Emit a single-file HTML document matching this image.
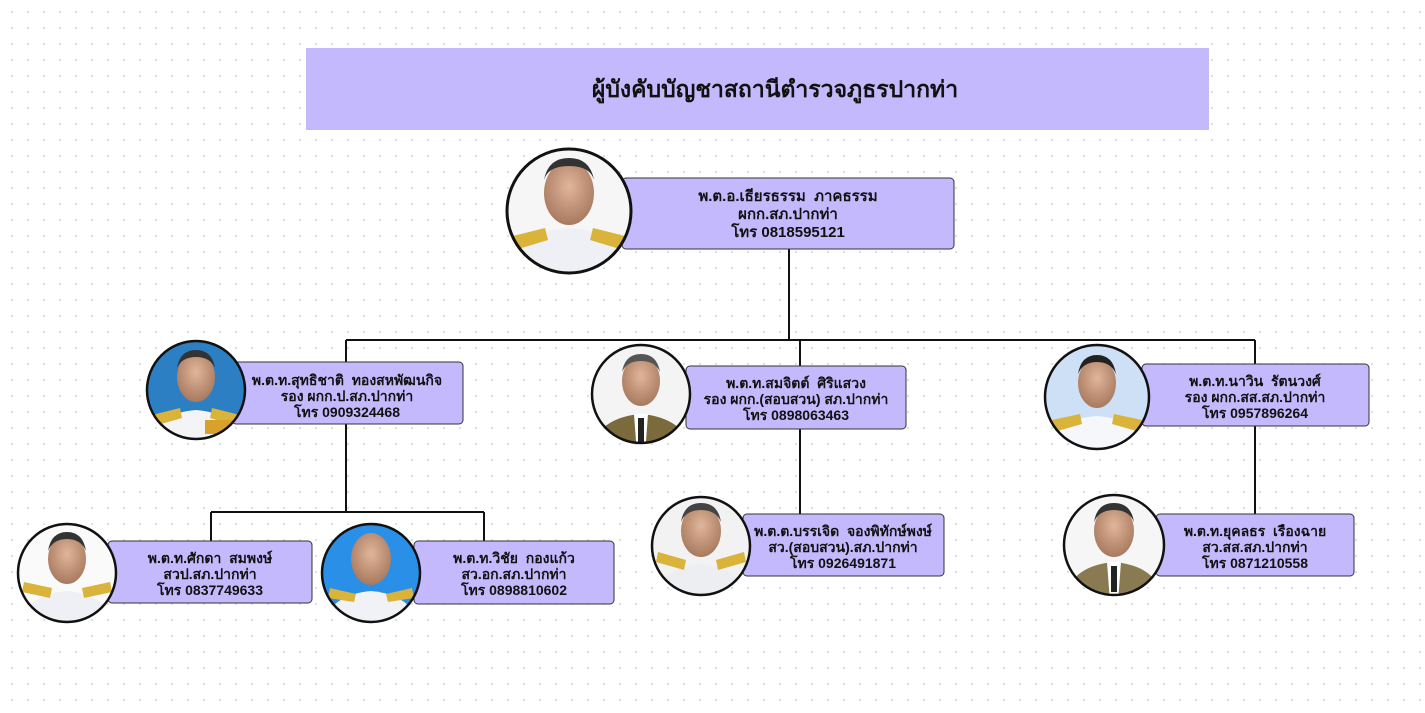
<!DOCTYPE html>
<html><head><meta charset="utf-8"><style>
html,body{margin:0;padding:0;}
body{width:1425px;height:708px;overflow:hidden;background-color:#fff;background-image:radial-gradient(circle,#dcdcdc 1px,transparent 1.3px);background-size:16px 16px;background-position:4px 4px;font-family:"Liberation Sans","DejaVu Sans",sans-serif;}
svg text{font-family:"Liberation Sans","DejaVu Sans",sans-serif;font-weight:bold;fill:#111;text-anchor:middle;}
</style></head><body>
<svg width="1425" height="708" xmlns="http://www.w3.org/2000/svg">
<defs>
<radialGradient id="skin" cx="50%" cy="40%" r="60%"><stop offset="0" stop-color="#e0b69a"/><stop offset="1" stop-color="#a8795e"/></radialGradient>
</defs>
<rect x="306" y="48" width="903" height="82" fill="#c5b9fd"/>
<text x="775" y="97" font-size="23">ผู้บังคับบัญชาสถานีตำรวจภูธรปากท่า</text>

<g stroke="#111" stroke-width="2" fill="none">
<path d="M789 249 V340 M346 340 H1255 M346 340 V363 M800 340 V366 M1255 340 V364"/>
<path d="M346 424 V512 M211 512 H484 M211 512 V541 M484 512 V541"/>
<path d="M800 429 V514 M1255 426 V514"/>
</g>

<g stroke="#333" stroke-width="1" fill="#c5b9fd">
<rect x="622" y="178" width="332" height="71" rx="4"/>
<rect x="232" y="362" width="231" height="62" rx="4"/>
<rect x="686" y="366" width="220" height="63" rx="4"/>
<rect x="1142" y="364" width="227" height="62" rx="4"/>
<rect x="108" y="541" width="204" height="62" rx="4"/>
<rect x="414" y="541" width="200" height="63" rx="4"/>
<rect x="743" y="514" width="201" height="62" rx="4"/>
<rect x="1156" y="514" width="198" height="62" rx="4"/>
</g>

<g id="photos">
<g><clipPath id="c1"><circle cx="569" cy="211" r="62"/></clipPath><g clip-path="url(#c1)"><rect x="500" y="140" width="140" height="140" fill="#f6f6f6"/><path d="M505 280 Q510 232 569 228 Q628 232 633 280Z" fill="#eef0f5"/><path d="M513 236 L545 228 L548 240 L515 250Z M625 236 L593 228 L590 240 L623 250Z" fill="#d9b33a"/><ellipse cx="569" cy="193" rx="25" ry="32" fill="url(#skin)"/><path d="M544 180 Q548 158 569 158 Q590 158 594 180 Q590 166 569 166 Q548 166 544 180Z" fill="#333"/></g><circle cx="569" cy="211" r="62" fill="none" stroke="#111" stroke-width="3"/></g>

<g><clipPath id="c2"><circle cx="196" cy="390" r="49"/></clipPath><g clip-path="url(#c2)"><rect x="140" y="335" width="115" height="115" fill="#2d7fc4"/><path d="M145 450 Q150 414 196 410 Q242 414 247 450Z" fill="#f4f4f6"/><path d="M152 415 L180 408 L182 418 L154 426Z M240 415 L212 408 L210 418 L238 426Z" fill="#d9b33a"/><rect x="205" y="420" width="28" height="14" fill="#d7a12b"/><ellipse cx="196" cy="377" rx="19" ry="25" fill="url(#skin)"/><path d="M177 368 Q180 350 196 350 Q212 350 215 368 Q210 357 196 357 Q182 357 177 368Z" fill="#333"/></g><circle cx="196" cy="390" r="49" fill="none" stroke="#111" stroke-width="2.5"/></g>

<g><clipPath id="c3"><circle cx="641" cy="394" r="49"/></clipPath><g clip-path="url(#c3)"><rect x="585" y="340" width="115" height="115" fill="#f4f4f4"/><path d="M590 455 Q595 418 641 414 Q687 418 692 455Z" fill="#7a6a3c"/><path d="M634 414 L648 414 L645 455 L637 455Z" fill="#fff"/><rect x="638" y="418" width="6" height="30" fill="#222"/><ellipse cx="641" cy="381" rx="19" ry="25" fill="url(#skin)"/><path d="M622 372 Q625 354 641 354 Q657 354 660 372 Q655 361 641 361 Q627 361 622 372Z" fill="#555"/></g><circle cx="641" cy="394" r="49" fill="none" stroke="#111" stroke-width="2.5"/></g>

<g><clipPath id="c4"><circle cx="1097" cy="397" r="52"/></clipPath><g clip-path="url(#c4)"><rect x="1040" y="340" width="115" height="115" fill="#cde0f5"/><path d="M1043 455 Q1048 420 1097 416 Q1146 420 1151 455Z" fill="#f5f7fb"/><path d="M1052 420 L1080 414 L1082 424 L1054 432Z M1142 420 L1114 414 L1112 424 L1140 432Z" fill="#d9b33a"/><ellipse cx="1097" cy="383" rx="19" ry="25" fill="url(#skin)"/><path d="M1078 374 Q1081 355 1097 355 Q1113 355 1116 374 Q1111 362 1097 362 Q1083 362 1078 374Z" fill="#222"/></g><circle cx="1097" cy="397" r="52" fill="none" stroke="#111" stroke-width="2.5"/></g>

<g><clipPath id="c5"><circle cx="67" cy="573" r="49"/></clipPath><g clip-path="url(#c5)"><rect x="15" y="520" width="110" height="110" fill="#fafafa"/><path d="M18 630 Q23 595 67 591 Q111 595 116 630Z" fill="#eef0f5"/><path d="M24 582 L52 588 L50 598 L22 592Z M110 582 L82 588 L84 598 L112 592Z" fill="#d9b33a"/><ellipse cx="67" cy="559" rx="19" ry="25" fill="url(#skin)"/><path d="M48 551 Q51 532 67 532 Q83 532 86 551 Q81 539 67 539 Q53 539 48 551Z" fill="#333"/></g><circle cx="67" cy="573" r="49" fill="none" stroke="#111" stroke-width="2.5"/></g>

<g><clipPath id="c6"><circle cx="371" cy="573" r="49"/></clipPath><g clip-path="url(#c6)"><rect x="318" y="520" width="110" height="110" fill="#2a8fe6"/><path d="M322 630 Q327 595 371 591 Q415 595 420 630Z" fill="#f0f2f6"/><path d="M330 588 L356 594 L354 602 L328 598Z M412 588 L386 594 L388 602 L414 598Z" fill="#d9b33a"/><ellipse cx="371" cy="559" rx="20" ry="26" fill="url(#skin)"/></g><circle cx="371" cy="573" r="49" fill="none" stroke="#111" stroke-width="2.5"/></g>

<g><clipPath id="c7"><circle cx="701" cy="546" r="49"/></clipPath><g clip-path="url(#c7)"><rect x="648" y="494" width="110" height="110" fill="#f2f2f2"/><path d="M652 604 Q657 568 701 564 Q745 568 750 604Z" fill="#eceef2"/><path d="M658 552 L686 560 L684 570 L656 562Z M744 552 L716 560 L718 570 L746 562Z" fill="#d9b33a"/><ellipse cx="701" cy="531" rx="20" ry="26" fill="url(#skin)"/><path d="M681 522 Q684 503 701 503 Q718 503 721 522 Q716 510 701 510 Q686 510 681 522Z" fill="#444"/></g><circle cx="701" cy="546" r="49" fill="none" stroke="#111" stroke-width="2.5"/></g>

<g><clipPath id="c8"><circle cx="1114" cy="545" r="50"/></clipPath><g clip-path="url(#c8)"><rect x="1060" y="492" width="110" height="110" fill="#f6f6f6"/><path d="M1064 602 Q1069 566 1114 562 Q1159 566 1164 602Z" fill="#8a7a52"/><path d="M1107 562 L1121 562 L1118 602 L1110 602Z" fill="#fff"/><rect x="1111" y="566" width="6" height="26" fill="#222"/><ellipse cx="1114" cy="531" rx="20" ry="26" fill="url(#skin)"/><path d="M1094 522 Q1097 503 1114 503 Q1131 503 1134 522 Q1129 510 1114 510 Q1099 510 1094 522Z" fill="#333"/></g><circle cx="1114" cy="545" r="50" fill="none" stroke="#111" stroke-width="2.5"/></g>
</g>

<g font-size="14">
<text x="788" y="201" font-size="15">พ.ต.อ.เธียรธรรม&#160;&#160;ภาคธรรม</text>
<text x="788" y="219" font-size="15">ผกก.สภ.ปากท่า</text>
<text x="788" y="237" font-size="15">โทร 0818595121</text>

<text x="347" y="385">พ.ต.ท.สุทธิชาติ&#160;&#160;ทองสหพัฒนกิจ</text>
<text x="347" y="401">รอง ผกก.ป.สภ.ปากท่า</text>
<text x="347" y="417">โทร 0909324468</text>

<text x="796" y="388">พ.ต.ท.สมจิตต์&#160;&#160;ศิริแสวง</text>
<text x="796" y="404">รอง ผกก.(สอบสวน) สภ.ปากท่า</text>
<text x="796" y="420">โทร 0898063463</text>

<text x="1255" y="386">พ.ต.ท.นาวิน&#160;&#160;รัตนวงศ์</text>
<text x="1255" y="402">รอง ผกก.สส.สภ.ปากท่า</text>
<text x="1255" y="418">โทร 0957896264</text>

<text x="210" y="563">พ.ต.ท.ศักดา&#160;&#160;สมพงษ์</text>
<text x="210" y="579">สวป.สภ.ปากท่า</text>
<text x="210" y="595">โทร 0837749633</text>

<text x="514" y="563">พ.ต.ท.วิชัย&#160;&#160;กองแก้ว</text>
<text x="514" y="579">สว.อก.สภ.ปากท่า</text>
<text x="514" y="595">โทร 0898810602</text>

<text x="843" y="536">พ.ต.ต.บรรเจิด&#160;&#160;จองพิทักษ์พงษ์</text>
<text x="843" y="552">สว.(สอบสวน).สภ.ปากท่า</text>
<text x="843" y="568">โทร 0926491871</text>

<text x="1255" y="536">พ.ต.ท.ยุคลธร&#160;&#160;เรืองฉาย</text>
<text x="1255" y="552">สว.สส.สภ.ปากท่า</text>
<text x="1255" y="568">โทร 0871210558</text>
</g>
</svg>
</body></html>
